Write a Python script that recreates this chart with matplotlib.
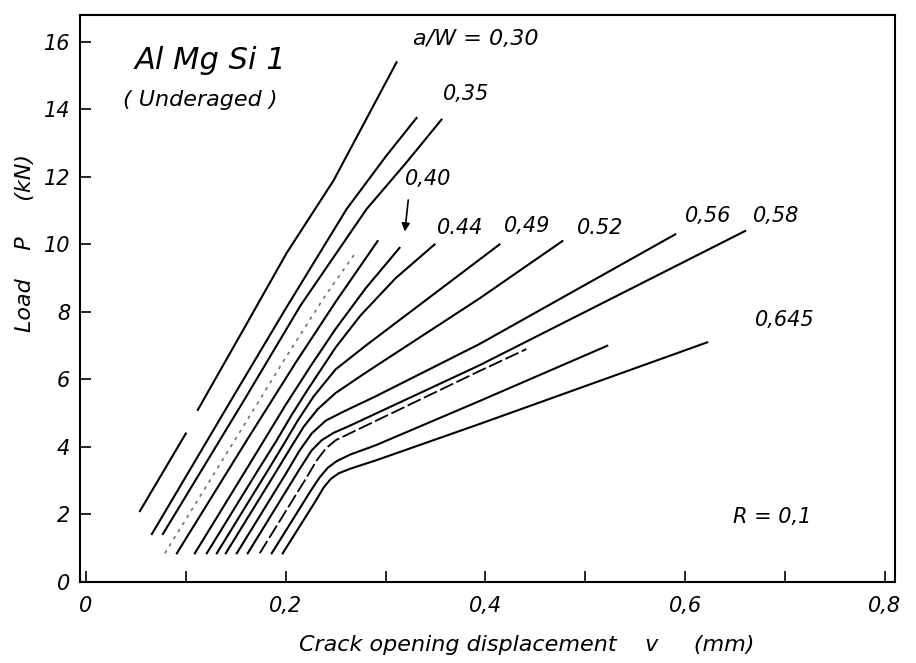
import numpy as np
import matplotlib
matplotlib.use('Agg')
import matplotlib.pyplot as plt

nan = np.nan

# crack opening displacement v (mm) / load P (kN)
v_030 = [0.054, 0.100, nan, 0.112, 0.159, 0.201, 0.248, 0.311]
p_030 = [2.1, 4.4, nan, 5.1, 7.55, 9.75, 11.9, 15.4]
v_035a = [0.066, 0.146, 0.200, 0.261, 0.300, 0.331]
p_035a = [1.42, 5.42, 8.1, 11.05, 12.6, 13.75]
v_035b = [0.077, 0.159, 0.215, 0.281, 0.320, 0.356]
p_035b = [1.42, 5.42, 8.2, 11.05, 12.4, 13.7]
v_c4 = [0.079, 0.150, 0.200, 0.240, 0.271]
p_c4 = [0.85, 4.25, 6.65, 8.5, 9.8]
v_c5 = [0.091, 0.160, 0.210, 0.250, 0.292]
p_c5 = [0.85, 4.15, 6.5, 8.3, 10.1]
v_040 = [0.109, 0.165, 0.200, 0.225, 0.250, 0.280, 0.314]
p_040 = [0.85, 3.55, 5.25, 6.4, 7.5, 8.7, 9.9]
v_044 = [0.121, 0.172, 0.190, 0.206, 0.222, 0.250, 0.275, 0.310, 0.349]
p_044 = [0.85, 3.3, 4.15, 4.95, 5.7, 6.95, 7.9, 9.0, 10.0]
v_049 = [0.131, 0.182, 0.198, 0.212, 0.228, 0.250, 0.280, 0.414]
p_049 = [0.85, 3.3, 4.08, 4.78, 5.5, 6.3, 7.0, 10.0]
v_052 = [0.140, 0.190, 0.205, 0.218, 0.232, 0.250, 0.280, 0.394, 0.477]
p_052 = [0.85, 3.25, 3.98, 4.6, 5.12, 5.6, 6.2, 8.4, 10.1]
v_056 = [0.151, 0.200, 0.214, 0.226, 0.240, 0.258, 0.290, 0.394, 0.590]
p_056 = [0.85, 3.2, 3.9, 4.4, 4.78, 5.05, 5.5, 7.05, 10.3]
v_058 = [0.162, 0.214, 0.226, 0.236, 0.248, 0.262, 0.394, 0.660]
p_058 = [0.85, 3.35, 3.9, 4.2, 4.42, 4.6, 6.42, 10.4]
v_c12 = [0.174, 0.221, 0.231, 0.240, 0.250, 0.264, 0.394, 0.441]
p_c12 = [0.85, 3.1, 3.6, 3.95, 4.2, 4.4, 6.25, 6.9]
v_c13 = [0.186, 0.225, 0.234, 0.242, 0.251, 0.265, 0.290, 0.394, 0.522]
p_c13 = [0.85, 2.7, 3.1, 3.38, 3.58, 3.78, 4.05, 5.36, 7.0]
v_0645 = [0.197, 0.230, 0.238, 0.245, 0.253, 0.265, 0.290, 0.394, 0.622]
p_0645 = [0.85, 2.4, 2.8, 3.05, 3.22, 3.36, 3.6, 4.68, 7.1]

xticks = [0, 0.2, 0.4, 0.6, 0.8]
xticklabels = ['0', '0,2', '0,4', '0,6', '0,8']
yticks = [0, 2, 4, 6, 8, 10, 12, 14, 16]

plt.rcParams['font.family'] = 'DejaVu Sans'
plt.rcParams['font.style'] = 'italic'

fig = plt.figure(figsize=(9.16, 6.63), dpi=100)
ax = fig.add_axes([0.0873, 0.1222, 0.8897, 0.8552])

solid = [(v_030, p_030), (v_035a, p_035a), (v_035b, p_035b), (v_c5, p_c5),
         (v_040, p_040), (v_044, p_044), (v_049, p_049), (v_052, p_052),
         (v_056, p_056), (v_058, p_058), (v_c13, p_c13), (v_0645, p_0645)]
for v, p in solid:
    ax.plot(v, p, color='black', lw=1.5, solid_joinstyle='round')
ax.plot(v_c4, p_c4, color='0.45', lw=1.2, ls=(0, (2, 3)))
ax.plot(v_c12, p_c12, color='black', lw=1.3, ls=(0, (8, 2)))

fs = 15
ax.text(0.327, 16.1, 'a/W = 0,30', fontsize=16, va='center')
ax.text(0.357, 14.45, '0,35', fontsize=fs, va='center')
ax.text(0.319, 11.95, '0,40', fontsize=fs, va='center')
ax.annotate('', xy=(0.319, 10.3), xytext=(0.323, 11.4),
            arrowprops=dict(arrowstyle='-|>', color='black', lw=1.2, mutation_scale=12))
ax.text(0.351, 10.5, '0.44', fontsize=fs, va='center')
ax.text(0.419, 10.55, '0,49', fontsize=fs, va='center')
ax.text(0.492, 10.5, '0.52', fontsize=fs, va='center')
ax.text(0.600, 10.83, '0,56', fontsize=fs, va='center')
ax.text(0.668, 10.84, '0,58', fontsize=fs, va='center')
ax.text(0.670, 7.76, '0,645', fontsize=fs, va='center')
ax.text(0.648, 1.94, 'R = 0,1', fontsize=fs, va='center')
ax.text(0.049, 15.44, 'Al Mg Si 1', fontsize=22, va='center')
ax.text(0.037, 14.28, '( Underaged )', fontsize=16, va='center')

ax.set_xlim(-0.006, 0.810)
ax.set_ylim(0, 16.8)
ax.set_xticks(xticks)
ax.set_xticklabels(xticklabels)
ax.set_xticks([0.1, 0.3, 0.5, 0.7], minor=True)
ax.set_yticks(yticks)
ax.tick_params(axis='both', which='both', direction='in', length=8, width=1.2,
               labelsize=fs)
ax.tick_params(axis='x', pad=10)
ax.tick_params(axis='y', pad=7)
for s in ax.spines.values():
    s.set_linewidth(1.5)

fig.text(527 / 916, 1 - 645 / 663, 'Crack opening displacement    v     (mm)',
         fontsize=16, ha='center', va='center')
fig.text(25 / 916, 1 - 243 / 663, 'Load    P     (kN)', fontsize=16,
         ha='center', va='center', rotation=90)

plt.savefig('out.png', dpi=100)
